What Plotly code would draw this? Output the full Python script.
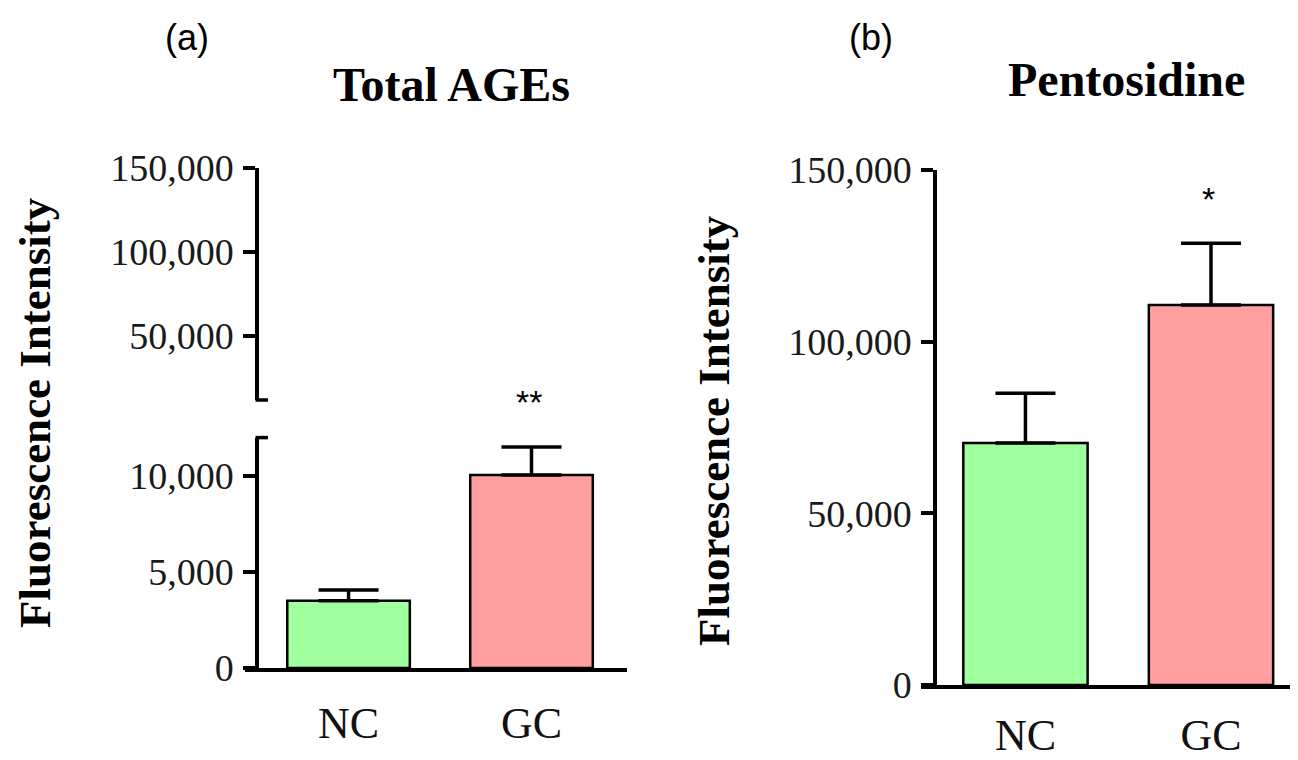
import plotly.graph_objects as go

# page body adds an 8px margin; compensate so the figure lands at the reference spot
OFF = 8
W, H = 1298 - OFF, 760 - OFF

categories = ["NC", "GC"]
ages_mean = [3500, 10050]
ages_err = [560, 1460]
pento_mean = [70500, 110700]
pento_err = [14500, 18000]
bar_colors = ["#a0ff9e", "#ff9f9f"]
ages_low_ticks = [0, 5000, 10000]
ages_high_ticks = [50000, 100000, 150000]
pento_ticks = [0, 50000, 100000, 150000]
signif = ["", "**"]
signif_b = ["", "*"]

def px(x):
    return (x - OFF) / W

def py(y):
    return 1 - (y - OFF) / H

serif = "Liberation Serif, Times New Roman, serif"
sans = "Liberation Sans, Arial, sans-serif"

fig = go.Figure()

def bars(means, errs, xa, ya, with_err=True):
    kw = {}
    if with_err:
        kw["error_y"] = dict(type="data", symmetric=False, array=errs,
                             arrayminus=[0] * len(errs), color="black",
                             thickness=3.5, width=30)
    return go.Bar(
        x=categories, y=means, xaxis=xa, yaxis=ya,
        width=0.67,
        marker=dict(color=bar_colors, line=dict(color="black", width=2.5)),
        showlegend=False, hoverinfo="skip", **kw,
    )

fig.add_trace(bars(ages_mean, ages_err, "x", "y"))
fig.add_trace(bars(ages_mean, ages_err, "x", "y2", with_err=False))
fig.add_trace(bars(pento_mean, pento_err, "x2", "y3"))

axis_common = dict(showgrid=False, zeroline=False, showline=True,
                   linecolor="black", linewidth=3.5, automargin=False,
                   fixedrange=True)
ytick_font = dict(family=serif, size=38, color="#1a1a1a")
xtick_font = dict(family=serif, size=44, color="#111111")
ytick_common = dict(tickformat=",d", ticks="outside", ticklen=12,
                    tickwidth=3.5, tickcolor="black", tickfont=ytick_font,
                    ticklabelstandoff=2)

fig.update_layout(
    template="none",
    width=W, height=H,
    margin=dict(l=0, r=0, t=0, b=0, autoexpand=False),
    paper_bgcolor="white", plot_bgcolor="white",
    xaxis=dict(**axis_common, domain=[px(245), px(627)], anchor="y",
               range=[-0.566, 1.522], ticks="", tickfont=xtick_font,
               ticklabelstandoff=13),
    yaxis=dict(**axis_common, **ytick_common, domain=[py(668), py(437.6)],
               anchor="free", position=px(257), range=[0, 12000],
               tickvals=ages_low_ticks),
    yaxis2=dict(**axis_common, **ytick_common, domain=[py(400), py(168)],
                anchor="free", position=px(257), range=[12000, 150000],
                tickvals=ages_high_ticks),
    xaxis2=dict(**axis_common, domain=[px(921), 1.0], anchor="y3",
                range=[-0.563, 1.469], ticks="", tickfont=xtick_font,
                ticklabelstandoff=8),
    yaxis3=dict(**axis_common, **ytick_common, domain=[py(685), py(170)],
                anchor="free", position=px(935), range=[0, 150000],
                tickvals=pento_ticks),
)

# axis break caps
for yy in (400, 437.6):
    fig.add_shape(type="line", xref="paper", yref="paper",
                  x0=px(255.5), x1=px(268), y0=py(yy), y1=py(yy),
                  line=dict(color="black", width=3.5))

annots = [
    dict(text="(a)", x=px(187), y=py(37), font=dict(family=sans, size=36)),
    dict(text="(b)", x=px(871), y=py(37), font=dict(family=sans, size=36)),
    dict(text="<b>Total AGEs</b>", x=px(451), y=py(85),
         font=dict(family=serif, size=48)),
    dict(text="<b>Pentosidine</b>", x=px(1126), y=py(80),
         font=dict(family=serif, size=48)),
    dict(text="<b>Fluorescence Intensity</b>", x=px(35), y=py(413),
         textangle=-90, font=dict(family=serif, size=45)),
    dict(text="<b>Fluorescence Intensity</b>", x=px(714), y=py(430),
         textangle=-90, font=dict(family=serif, size=45)),
    dict(text=signif[1], x=px(529), y=py(402), font=dict(family=sans, size=34)),
    dict(text=signif_b[1], x=px(1208), y=py(199), font=dict(family=sans, size=34)),
]
for a in annots:
    fig.add_annotation(xref="paper", yref="paper", showarrow=False,
                       xanchor="center", yanchor="middle", **a)
for a in fig.layout.annotations:
    a.font.color = "black"

fig.write_html("out.html")
